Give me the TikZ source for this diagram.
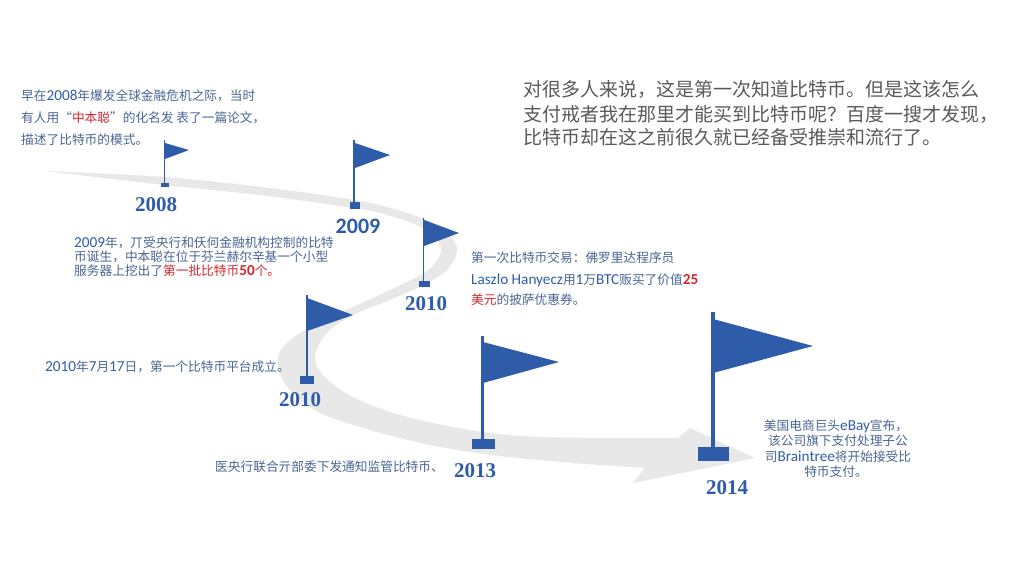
\documentclass[tikz,border=0pt]{standalone}
\usepackage{fontspec}
\setmainfont{Noto Sans CJK SC}
\newfontfamily\latinf[Scale=1.2]{Carlito}
\newfontfamily\latinyear{Carlito}
\newfontfamily\yearserif{Liberation Serif}
\definecolor{flagblue}{HTML}{2F5CA8}
\definecolor{band}{HTML}{E8E8E8}
\definecolor{txtblue}{HTML}{4A6595}
\definecolor{txtgrey}{HTML}{5A5A5A}
\definecolor{txtred}{HTML}{D8262C}
\newcommand{\La}[1]{{\latinf\color{flagblue}#1}}
\newcommand{\Lr}[1]{{\latinf\bfseries\color{txtred}#1}}
\tikzset{
  small/.style={anchor=west,inner sep=0pt,text height=10pt,text depth=2pt,text=txtblue,font=\fontsize{12.7}{13}\selectfont},
  big/.style={anchor=west,inner sep=0pt,text height=15pt,text depth=3pt,text=txtgrey,font=\fontsize{19}{20}\selectfont},
  yearlab/.style={inner sep=0pt,text=flagblue,font=\yearserif\bfseries\fontsize{21}{22}\selectfont},
  yearsans/.style={inner sep=0pt,text=flagblue,font=\latinyear\bfseries\fontsize{22}{23}\selectfont}
}
\begin{document}
\begin{tikzpicture}[x=1pt,y=-1pt]
\useasboundingbox (0,0) rectangle (1024,576);
\fill[white] (0,0) rectangle (1024,576);
% band
\fill[band] plot[smooth,tension=0.55] coordinates {(45,171) (164,177) (270,188) (360,201) (407,213) (440,227) (457,248) (447,270) (423,285) (390,300) (353,315) (327,333) (315,357) (325,377) (353,397) (400,415) (470,430) (540,437) (678,438)}
  -- (690,428) -- (755,458) -- (633,483) -- (645,468)
  -- plot[smooth,tension=0.55] coordinates {(645,468) (573,463) (500,456) (440,447) (400,438) (370,430) (320,413) (290,390) (278,367) (283,347) (310,327) (353,307) (417,277) (435,263) (441,247) (423,228) (380,213) (340,206) (260,195) (164,185) (45,171)} -- cycle;
% flags
\fill[flagblue] (163.6,140) rectangle (165,184);
\fill[flagblue] (165,143) -- (189,150) -- (165,159) -- cycle;
\fill[flagblue] (161,183) rectangle (169,187);
\fill[flagblue] (353.3,140) rectangle (355.2,203);
\fill[flagblue] (355,143) -- (390,155) -- (355,168) -- cycle;
\fill[flagblue] (349.5,202) rectangle (360,209);
\fill[flagblue] (422.6,218) rectangle (424.4,282);
\fill[flagblue] (424,220) -- (459,233) -- (424,246) -- cycle;
\fill[flagblue] (419,281) rectangle (430,287);
\fill[flagblue] (305.8,295) rectangle (308,377);
\fill[flagblue] (307,298) -- (353,315) -- (307,331) -- cycle;
\fill[flagblue] (300,376) rectangle (314,384);
\fill[flagblue] (481.2,336) rectangle (483.8,440);
\fill[flagblue] (483,342) -- (559,362) -- (483,383) -- cycle;
\fill[flagblue] (472,439) rectangle (495,449);
\fill[flagblue] (711.2,312) rectangle (714.8,448);
\fill[flagblue] (713,319) -- (813,346) -- (713,373) -- cycle;
\fill[flagblue] (698,447) rectangle (729,461);
% years
\node[yearlab] (y2008) at (156,205) {2008};
\node[yearsans] (y2009) at (358,226) {2009};
\node[yearlab] (y2010a) at (426,304) {2010};
\node[yearlab] (y2010b) at (300,400) {2010};
\node[yearlab] (y2013) at (475,471) {2013};
\node[yearlab] (y2014) at (727,488) {2014};
% text top left
\node[small] (a1) at (21,96) {早在\La{2008}年爆发全球金融危机之际，当时};
\node[small] (a2) at (21,118) {有人用“{\color{txtred}中本聪}”的化名发 表了一篇论文，};
\node[small] (a3) at (21,140) {描述了比特币的模式。};
% 2009
\node[small] (b1) at (74,243) {\La{2009}年，丌受央行和仸何金融机构控制的比特};
\node[small] (b2) at (74,257) {币诞生，中本聪在位于芬兰赫尔辛基一个小型};
\node[small] (b3) at (74,271) {服务器上挖出了{\color{txtred}第一批比特币}\Lr{50}{\color{txtred}个。}};
% top right
\node[big] (c1) at (523,90) {对很多人来说，这是第一次知道比特币。但是这该怎么};
\node[big] (c2) at (523,115) {支付戒者我在那里才能买到比特币呢？百度一搜才发现，};
\node[big] (c3) at (523,138) {比特币却在这之前很久就已经备受推崇和流行了。};
% first trade
\node[small] (d1) at (471,258) {第一次比特币交易：佛罗里达程序员};
\node[small] (d2) at (471,280) {\La{Laszlo Hanyecz}用\La{1}万\La{BTC}贩买了价值\Lr{25}};
\node[small] (d3) at (471,300) {{\color{txtred}美元}的披萨优惠券。};
% 2010 platform
\node[small] (e1) at (45,367) {\La{2010}年\La{7}月\La{17}日，第一个比特币平台成立。};
% 2013
\node[small] (f1) at (215,467) {医央行联合亓部委下发通知监管比特币、};
% 2014
\node[small,anchor=center] (g1) at (836,426) {美国电商巨头\La{eBay}宣布，};
\node[small,anchor=center] (g2) at (838,441) {该公司旗下支付处理子公};
\node[small,anchor=center] (g3) at (838,457) {司\La{Braintree}将开始接受比};
\node[small,anchor=center] (g4) at (836,472) {特币支付。};
\end{tikzpicture}
\end{document}
